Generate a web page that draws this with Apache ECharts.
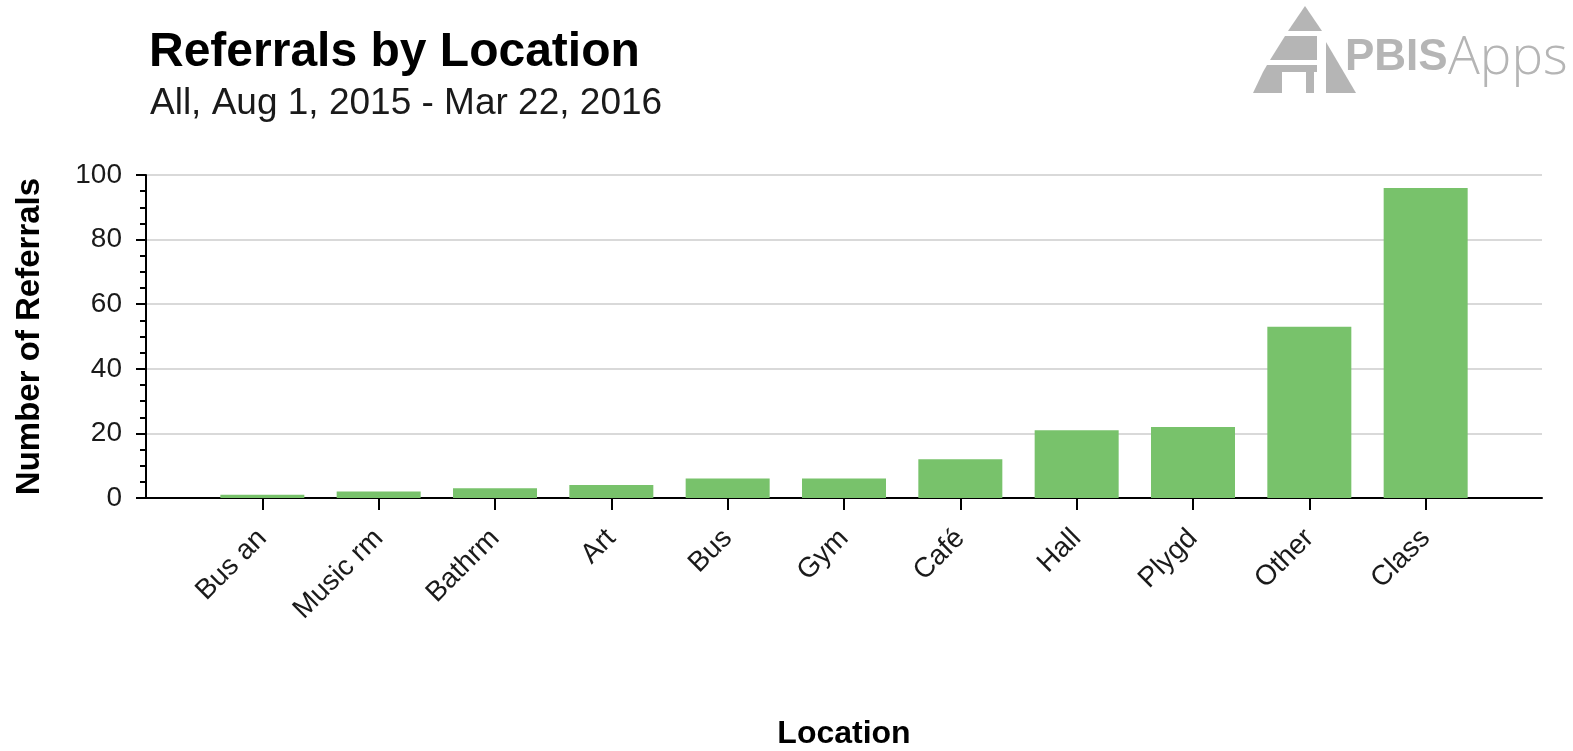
<!DOCTYPE html>
<html>
<head>
<meta charset="utf-8">
<script src="https://cdn.jsdelivr.net/npm/echarts@6/dist/echarts.min.js"></script>
<style>
html,body{margin:0;padding:0;background:#fff;}
#c{width:1573px;height:751px;}
</style>
</head>
<body>
<div id="c"></div>
<script>
const categories = ['Bus an', 'Music rm', 'Bathrm', 'Art', 'Bus', 'Gym', 'Café', 'Hall', 'Plygd', 'Other', 'Class'];
const referrals = [1, 2, 3, 4, 6, 6, 12, 21, 22, 53, 96];
const yTicks = [0, 20, 40, 60, 80, 100];

const FONT = '"Liberation Sans", Arial, Helvetica, sans-serif';
const GRAY = '#b5b5b5';

// pad one empty slot on each side so bars sit at band boundaries
const xData = [''].concat(categories, ['']);
const yData = [null].concat(referrals, [null]);

const chart = echarts.init(document.getElementById('c'), null, {renderer: 'canvas'});
chart.setOption({
  animation: false,
  backgroundColor: '#ffffff',
  title: [
    {text: 'Referrals by Location', left: 144, top: 24,
     textStyle: {fontFamily: FONT, fontSize: 48, fontWeight: 'bold', color: '#000'}},
    {text: 'All, Aug 1, 2015 - Mar 22, 2016', left: 145, top: 80,
     textStyle: {fontFamily: FONT, fontSize: 37, fontWeight: 'normal', color: '#1a1a1a'}}
  ],
  grid: {left: 146, right: 31, top: 175, bottom: 253, containLabel: false},
  xAxis: {
    type: 'category',
    data: xData,
    boundaryGap: false,
    name: 'Location',
    nameLocation: 'middle',
    nameGap: 220,
    nameTextStyle: {fontFamily: FONT, fontSize: 32, fontWeight: 'bold', color: '#000'},
    axisLine: {show: true, lineStyle: {color: '#000', width: 2}},
    axisTick: {show: true, length: 12, interval: function (i) { return i > 0 && i < xData.length - 1; },
               lineStyle: {color: '#000', width: 2}},
    axisLabel: {interval: 0, rotate: 45, margin: 36, fontFamily: FONT, fontSize: 28, color: '#1a1a1a'},
    splitLine: {show: false}
  },
  yAxis: {
    type: 'value',
    min: yTicks[0],
    max: yTicks[yTicks.length - 1],
    interval: yTicks[1] - yTicks[0],
    name: 'Number of Referrals',
    nameLocation: 'middle',
    nameRotate: 90,
    nameGap: 100,
    nameTextStyle: {fontFamily: FONT, fontSize: 33, fontWeight: 'bold', color: '#000'},
    axisLine: {show: true, lineStyle: {color: '#000', width: 2}},
    axisTick: {show: true, length: 10, lineStyle: {color: '#000', width: 2}},
    minorTick: {show: true, splitNumber: 4, length: 6, lineStyle: {color: '#000', width: 2}},
    axisLabel: {margin: 24, fontFamily: FONT, fontSize: 28, color: '#1a1a1a'},
    splitLine: {show: true, lineStyle: {color: '#d9d9d9', width: 2}}
  },
  series: [{
    type: 'bar',
    data: yData,
    barWidth: 84,
    itemStyle: {color: '#78c26b'},
    z: 1
  }],
  graphic: [
    {type: 'polygon', shape: {points: [[1305, 6], [1322, 31], [1288, 31]]}, style: {fill: GRAY}},
    {type: 'polygon', shape: {points: [[1285, 36], [1317, 36], [1317, 60], [1270, 60]]}, style: {fill: GRAY}},
    {type: 'polygon', shape: {points: [[1267, 65], [1317, 65], [1317, 72], [1263, 72]]}, style: {fill: GRAY}},
    {type: 'polygon', shape: {points: [[1263, 72], [1282, 72], [1282, 93], [1253, 93]]}, style: {fill: GRAY}},
    {type: 'rect', shape: {x: 1306, y: 72, width: 8, height: 21}, style: {fill: GRAY}},
    {type: 'polygon', shape: {points: [[1326, 42], [1356, 93], [1326, 93]]}, style: {fill: GRAY}},
    {type: 'text', left: 1345, top: 36,
     style: {text: 'PBIS', fontFamily: FONT, fontSize: 44, fontWeight: 'bold', fill: GRAY}},
    {type: 'text', left: 1448, top: 32,
     style: {text: 'Apps', fontFamily: '"Open Sans", Lato, sans-serif', fontSize: 53, fontWeight: 300, fill: GRAY}}
  ]
});
</script>
</body>
</html>
